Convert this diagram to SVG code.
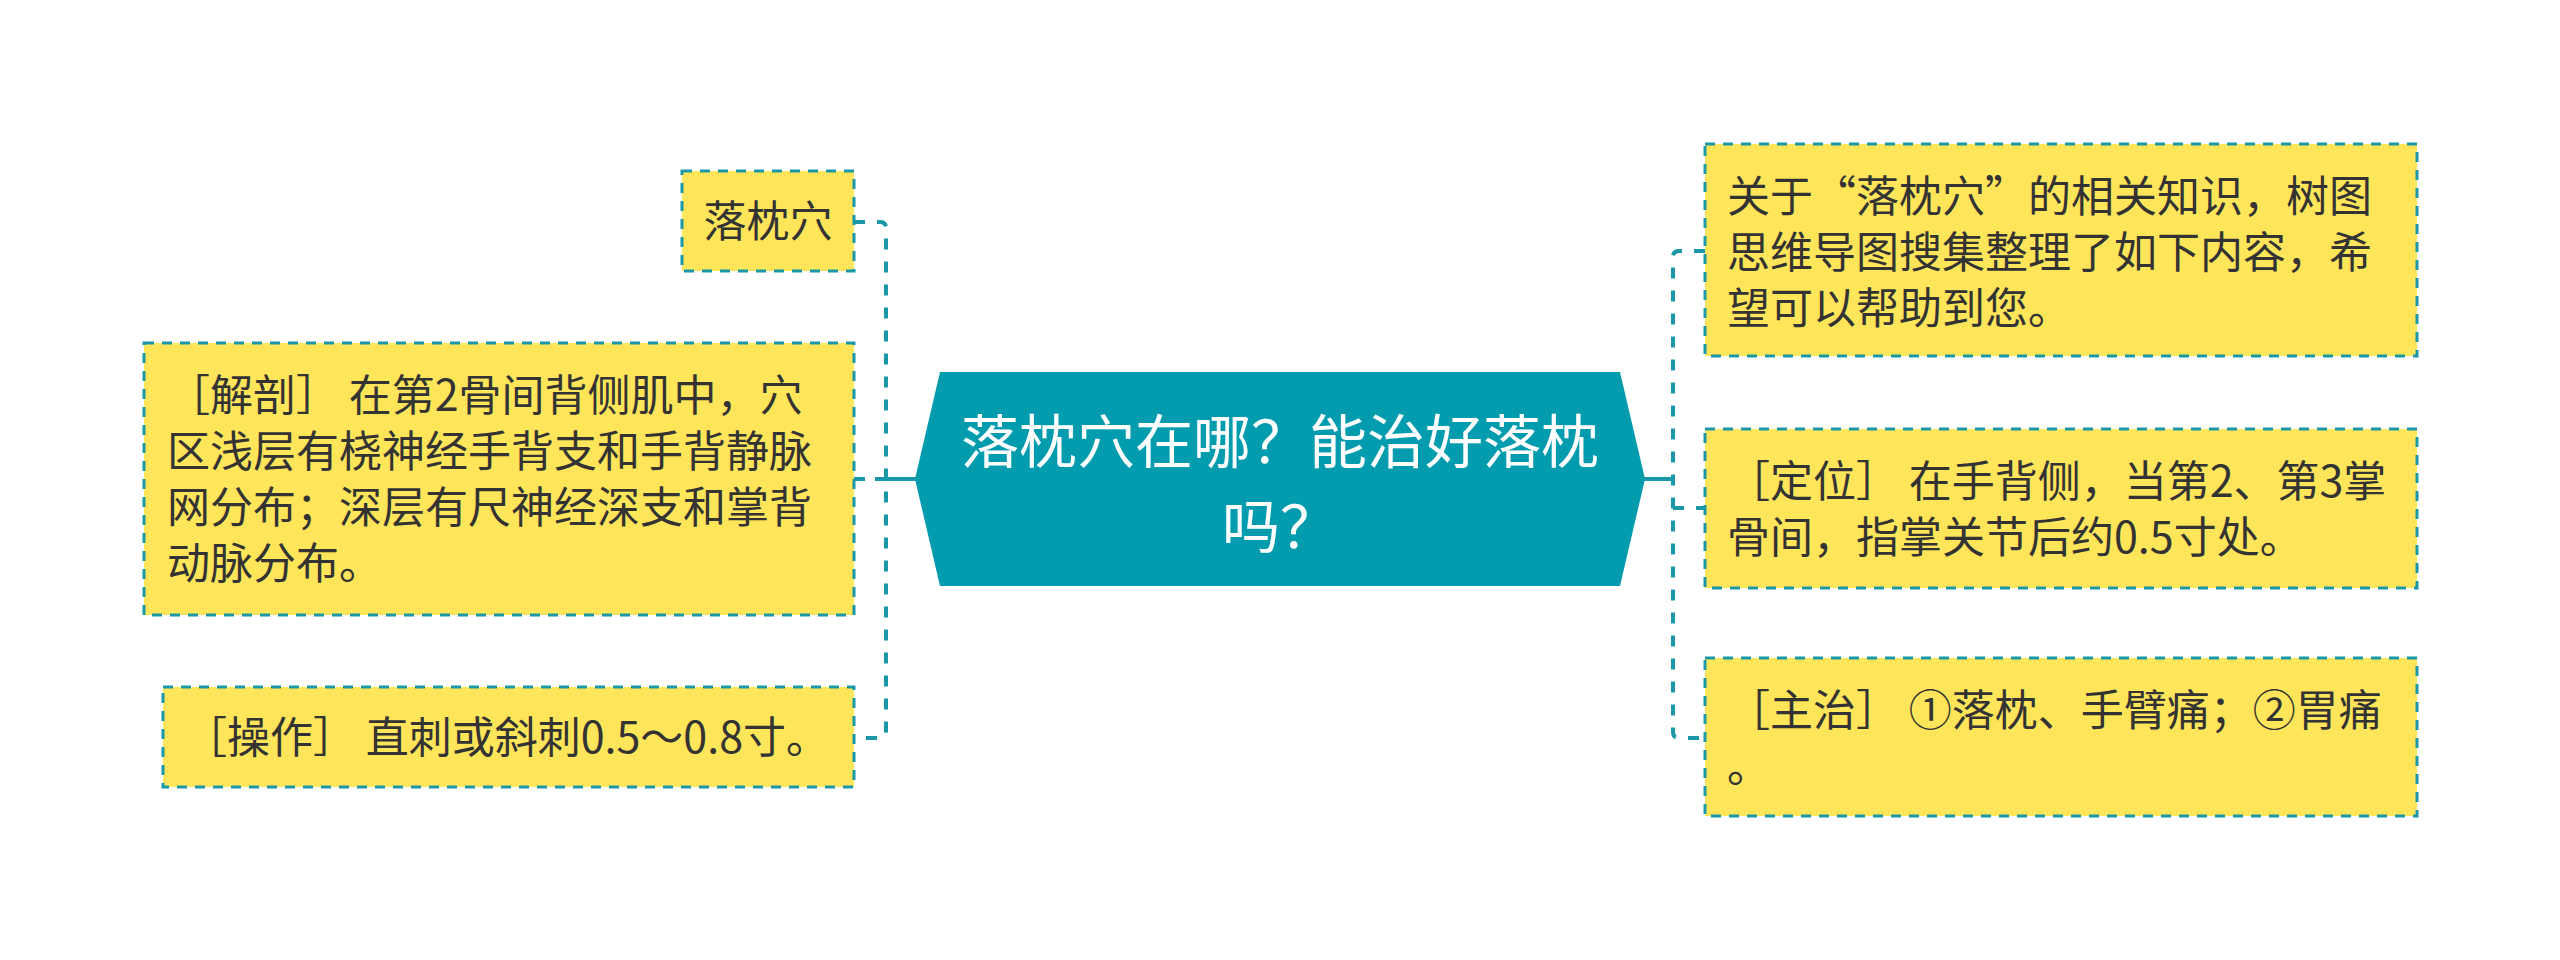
<svg xmlns="http://www.w3.org/2000/svg" width="2560" height="960" viewBox="0 0 2560 960">
<style>
.box{fill:#FFE55A;stroke:#1A98A8;stroke-width:3;stroke-dasharray:10 8}
.t{font-family:"Noto Sans CJK SC","Noto Sans",sans-serif;font-size:43px;fill:#333333}
.ct{font-family:"Noto Sans CJK SC","Noto Sans",sans-serif;font-size:58px;fill:#FFFFFF}
.dash{fill:none;stroke:#1A98A8;stroke-width:4;stroke-dasharray:11 12}
.solid{fill:none;stroke:#1A98A8;stroke-width:4}
</style>
<rect width="2560" height="960" fill="#FFFFFF"/>
<g id="connectors">
<path class="dash" d="M854 222 H880 Q886 222 886 228 V732 Q886 738 880 738 H854"/>
<path class="dash" d="M854 479 H886"/>
<path class="solid" d="M875 479 H916"/>
<path class="dash" d="M1705 251 H1679 Q1673 251 1673 257 V732 Q1673 738 1679 738 H1705"/>
<path class="dash" d="M1673 508 H1705"/>
<path class="solid" d="M1644 479 H1673"/>
</g>
<g id="center">
<polygon points="940,372 1620,372 1645,479 1620,586 940,586 915,479" fill="#039CAF"/>
<text class="ct" x="1280" text-anchor="middle"><tspan x="1280" y="463">落枕穴在哪？能治好落枕</tspan><tspan x="1280" y="548">吗？</tspan></text>
</g>
<g id="n-luozhen">
<rect class="box" x="682" y="171" width="172" height="100"/>
<text class="t" x="768" y="237" text-anchor="middle">落枕穴</text>
</g>
<g id="n-jiepou">
<rect class="box" x="144" y="343" width="710" height="272"/>
<text class="t"><tspan x="167" y="411">［解剖］ 在第2骨间背侧肌中，穴</tspan><tspan x="167" y="467">区浅层有桡神经手背支和手背静脉</tspan><tspan x="167" y="523">网分布；深层有尺神经深支和掌背</tspan><tspan x="167" y="579">动脉分布。</tspan></text>
</g>
<g id="n-caozuo">
<rect class="box" x="163" y="687" width="691" height="100"/>
<text class="t" x="184" y="753">［操作］ 直刺或斜刺0.5～0.8寸。</text>
</g>
<g id="n-intro">
<rect class="box" x="1705" y="144" width="712" height="212"/>
<text class="t"><tspan x="1727" y="212">关于“落枕穴”的相关知识，树图</tspan><tspan x="1727" y="268">思维导图搜集整理了如下内容，希</tspan><tspan x="1727" y="324">望可以帮助到您。</tspan></text>
</g>
<g id="n-dingwei">
<rect class="box" x="1705" y="429" width="712" height="159"/>
<text class="t"><tspan x="1727" y="497">［定位］ 在手背侧，当第2、第3掌</tspan><tspan x="1727" y="553">骨间，指掌关节后约0.5寸处。</tspan></text>
</g>
<g id="n-zhuzhi">
<rect class="box" x="1705" y="658" width="712" height="158"/>
<text class="t"><tspan x="1727" y="726">［主治］ ①落枕、手臂痛；②胃痛</tspan><tspan x="1727" y="782">。</tspan></text>
</g>
</svg>
